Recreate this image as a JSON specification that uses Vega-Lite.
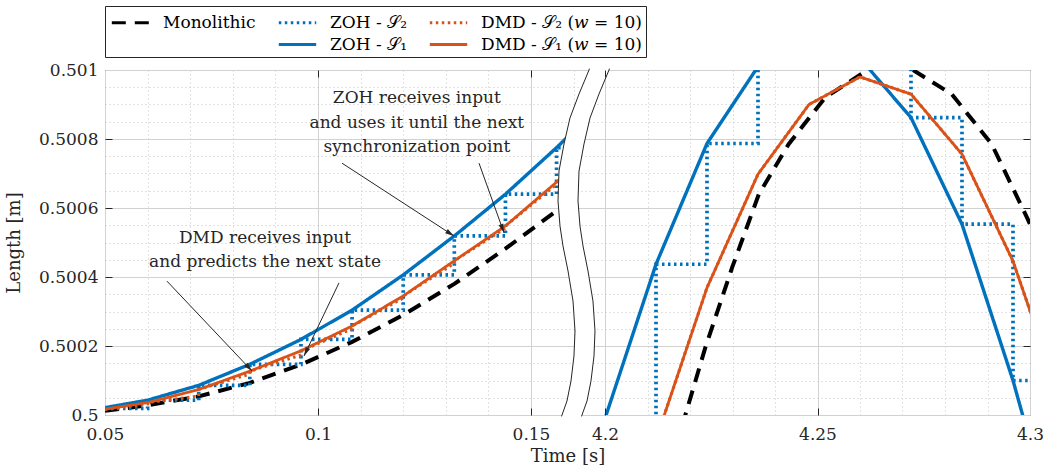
{
  "$schema": "https://vega.github.io/schema/vega-lite/v6.json",
  "width": 925,
  "height": 345,
  "padding": {"left": 5, "top": 5, "right": 5, "bottom": 5},
  "background": "white",
  "config": {
    "font": "DejaVu Serif",
    "view": {"stroke": "#262626", "strokeWidth": 1},
    "axis": {"labelFont": "DejaVu Serif", "titleFont": "DejaVu Serif", "labelColor": "#262626", "titleColor": "#262626", "titleFontWeight": "normal", "labelOverlap": false, "labelFlush": false},
    "legend": {"labelFont": "DejaVu Serif"}
  },
  "datasets": {
    "series": [
      {"s":"a","p":"L","i":0,"t":0.05,"y":0.500012},
      {"s":"a","p":"L","i":1,"t":0.06,"y":0.500028},
      {"s":"a","p":"L","i":2,"t":0.072,"y":0.500054},
      {"s":"a","p":"L","i":3,"t":0.084,"y":0.500093},
      {"s":"a","p":"L","i":4,"t":0.096,"y":0.500146},
      {"s":"a","p":"L","i":5,"t":0.108,"y":0.500212},
      {"s":"a","p":"L","i":6,"t":0.12,"y":0.50029},
      {"s":"a","p":"L","i":7,"t":0.132,"y":0.50038},
      {"s":"a","p":"L","i":8,"t":0.144,"y":0.500482},
      {"s":"a","p":"L","i":9,"t":0.156,"y":0.500592},
      {"s":"a","p":"L","i":10,"t":0.1605,"y":0.500636},
      {"s":"a","p":"R","i":0,"t":4.21,"y":0.49965},
      {"s":"a","p":"R","i":1,"t":4.2189,"y":0.5},
      {"s":"a","p":"R","i":2,"t":4.2236,"y":0.500195},
      {"s":"a","p":"R","i":3,"t":4.2299,"y":0.500427},
      {"s":"a","p":"R","i":4,"t":4.2362,"y":0.50064},
      {"s":"a","p":"R","i":5,"t":4.2432,"y":0.500785},
      {"s":"a","p":"R","i":6,"t":4.2518,"y":0.50092},
      {"s":"a","p":"R","i":7,"t":4.262,"y":0.501002},
      {"s":"a","p":"R","i":8,"t":4.2671,"y":0.50102},
      {"s":"a","p":"R","i":9,"t":4.2722,"y":0.501002},
      {"s":"a","p":"R","i":10,"t":4.2816,"y":0.50093},
      {"s":"a","p":"R","i":11,"t":4.291,"y":0.500785},
      {"s":"a","p":"R","i":12,"t":4.2993,"y":0.500572},
      {"s":"a","p":"R","i":13,"t":4.302,"y":0.5005},

      {"s":"b","p":"L","i":0,"t":0.05,"y":0.500019},
      {"s":"b","p":"L","i":1,"t":0.06,"y":0.500019},
      {"s":"b","p":"L","i":2,"t":0.06,"y":0.500043},
      {"s":"b","p":"L","i":3,"t":0.072,"y":0.500043},
      {"s":"b","p":"L","i":4,"t":0.072,"y":0.500086},
      {"s":"b","p":"L","i":5,"t":0.084,"y":0.500086},
      {"s":"b","p":"L","i":6,"t":0.084,"y":0.500147},
      {"s":"b","p":"L","i":7,"t":0.096,"y":0.500147},
      {"s":"b","p":"L","i":8,"t":0.096,"y":0.500219},
      {"s":"b","p":"L","i":9,"t":0.108,"y":0.500219},
      {"s":"b","p":"L","i":10,"t":0.108,"y":0.500304},
      {"s":"b","p":"L","i":11,"t":0.12,"y":0.500304},
      {"s":"b","p":"L","i":12,"t":0.12,"y":0.500406},
      {"s":"b","p":"L","i":13,"t":0.132,"y":0.500406},
      {"s":"b","p":"L","i":14,"t":0.132,"y":0.500519},
      {"s":"b","p":"L","i":15,"t":0.144,"y":0.500519},
      {"s":"b","p":"L","i":16,"t":0.144,"y":0.50064},
      {"s":"b","p":"L","i":17,"t":0.156,"y":0.50064},
      {"s":"b","p":"L","i":18,"t":0.156,"y":0.500775},
      {"s":"b","p":"L","i":19,"t":0.1605,"y":0.500775},
      {"s":"b","p":"R","i":0,"t":4.188,"y":0.49955},
      {"s":"b","p":"R","i":1,"t":4.2,"y":0.49955},
      {"s":"b","p":"R","i":2,"t":4.2,"y":0.49995},
      {"s":"b","p":"R","i":3,"t":4.212,"y":0.49995},
      {"s":"b","p":"R","i":4,"t":4.212,"y":0.500437},
      {"s":"b","p":"R","i":5,"t":4.224,"y":0.500437},
      {"s":"b","p":"R","i":6,"t":4.224,"y":0.500787},
      {"s":"b","p":"R","i":7,"t":4.236,"y":0.500787},
      {"s":"b","p":"R","i":8,"t":4.236,"y":0.50101},
      {"s":"b","p":"R","i":9,"t":4.248,"y":0.50101},
      {"s":"b","p":"R","i":10,"t":4.248,"y":0.50109},
      {"s":"b","p":"R","i":11,"t":4.26,"y":0.50109},
      {"s":"b","p":"R","i":12,"t":4.26,"y":0.501034},
      {"s":"b","p":"R","i":13,"t":4.272,"y":0.501034},
      {"s":"b","p":"R","i":14,"t":4.272,"y":0.500862},
      {"s":"b","p":"R","i":15,"t":4.284,"y":0.500862},
      {"s":"b","p":"R","i":16,"t":4.284,"y":0.500553},
      {"s":"b","p":"R","i":17,"t":4.296,"y":0.500553},
      {"s":"b","p":"R","i":18,"t":4.296,"y":0.5001},
      {"s":"b","p":"R","i":19,"t":4.302,"y":0.5001},

      {"s":"c","p":"L","i":0,"t":0.048,"y":0.500017},
      {"s":"c","p":"L","i":1,"t":0.06,"y":0.500043},
      {"s":"c","p":"L","i":2,"t":0.072,"y":0.500086},
      {"s":"c","p":"L","i":3,"t":0.084,"y":0.500147},
      {"s":"c","p":"L","i":4,"t":0.096,"y":0.500219},
      {"s":"c","p":"L","i":5,"t":0.108,"y":0.500304},
      {"s":"c","p":"L","i":6,"t":0.12,"y":0.500406},
      {"s":"c","p":"L","i":7,"t":0.132,"y":0.500519},
      {"s":"c","p":"L","i":8,"t":0.144,"y":0.50064},
      {"s":"c","p":"L","i":9,"t":0.156,"y":0.500775},
      {"s":"c","p":"L","i":10,"t":0.1605,"y":0.500829},
      {"s":"c","p":"R","i":0,"t":4.188,"y":0.4995},
      {"s":"c","p":"R","i":1,"t":4.2,"y":0.49999},
      {"s":"c","p":"R","i":2,"t":4.212,"y":0.500437},
      {"s":"c","p":"R","i":3,"t":4.224,"y":0.500787},
      {"s":"c","p":"R","i":4,"t":4.236,"y":0.50101},
      {"s":"c","p":"R","i":5,"t":4.248,"y":0.50109},
      {"s":"c","p":"R","i":6,"t":4.26,"y":0.501034},
      {"s":"c","p":"R","i":7,"t":4.272,"y":0.500862},
      {"s":"c","p":"R","i":8,"t":4.284,"y":0.500553},
      {"s":"c","p":"R","i":9,"t":4.296,"y":0.5001},
      {"s":"c","p":"R","i":10,"t":4.308,"y":0.49957},

      {"s":"d","p":"L","i":0,"t":0.05,"y":0.500016},
      {"s":"d","p":"L","i":1,"t":0.06,"y":0.500032},
      {"s":"d","p":"L","i":2,"t":0.06,"y":0.500036},
      {"s":"d","p":"L","i":3,"t":0.072,"y":0.500055},
      {"s":"d","p":"L","i":4,"t":0.072,"y":0.500074},
      {"s":"d","p":"L","i":5,"t":0.084,"y":0.500119},
      {"s":"d","p":"L","i":6,"t":0.084,"y":0.500127},
      {"s":"d","p":"L","i":7,"t":0.096,"y":0.500174},
      {"s":"d","p":"L","i":8,"t":0.096,"y":0.500186},
      {"s":"d","p":"L","i":9,"t":0.108,"y":0.50025},
      {"s":"d","p":"L","i":10,"t":0.108,"y":0.500258},
      {"s":"d","p":"L","i":11,"t":0.12,"y":0.500339},
      {"s":"d","p":"L","i":12,"t":0.12,"y":0.500345},
      {"s":"d","p":"L","i":13,"t":0.132,"y":0.50044},
      {"s":"d","p":"L","i":14,"t":0.132,"y":0.500447},
      {"s":"d","p":"L","i":15,"t":0.144,"y":0.500542},
      {"s":"d","p":"L","i":16,"t":0.144,"y":0.500548},
      {"s":"d","p":"L","i":17,"t":0.156,"y":0.500669},
      {"s":"d","p":"L","i":18,"t":0.156,"y":0.500675},
      {"s":"d","p":"L","i":19,"t":0.1605,"y":0.500722},
      {"s":"d","p":"R","i":0,"t":4.2,"y":0.4995},
      {"s":"d","p":"R","i":1,"t":4.212,"y":0.499928},
      {"s":"d","p":"R","i":2,"t":4.224,"y":0.500369},
      {"s":"d","p":"R","i":3,"t":4.236,"y":0.500698},
      {"s":"d","p":"R","i":4,"t":4.248,"y":0.5009},
      {"s":"d","p":"R","i":5,"t":4.26,"y":0.50098},
      {"s":"d","p":"R","i":6,"t":4.272,"y":0.50093},
      {"s":"d","p":"R","i":7,"t":4.284,"y":0.500756},
      {"s":"d","p":"R","i":8,"t":4.296,"y":0.500446},
      {"s":"d","p":"R","i":9,"t":4.308,"y":0.500015},

      {"s":"e","p":"L","i":0,"t":0.048,"y":0.500013},
      {"s":"e","p":"L","i":1,"t":0.06,"y":0.500036},
      {"s":"e","p":"L","i":2,"t":0.072,"y":0.500074},
      {"s":"e","p":"L","i":3,"t":0.084,"y":0.500127},
      {"s":"e","p":"L","i":4,"t":0.096,"y":0.500186},
      {"s":"e","p":"L","i":5,"t":0.108,"y":0.500258},
      {"s":"e","p":"L","i":6,"t":0.12,"y":0.500345},
      {"s":"e","p":"L","i":7,"t":0.132,"y":0.500447},
      {"s":"e","p":"L","i":8,"t":0.144,"y":0.500548},
      {"s":"e","p":"L","i":9,"t":0.156,"y":0.500675},
      {"s":"e","p":"L","i":10,"t":0.1605,"y":0.500724},
      {"s":"e","p":"R","i":0,"t":4.2,"y":0.4995},
      {"s":"e","p":"R","i":1,"t":4.212,"y":0.499928},
      {"s":"e","p":"R","i":2,"t":4.224,"y":0.500369},
      {"s":"e","p":"R","i":3,"t":4.236,"y":0.500698},
      {"s":"e","p":"R","i":4,"t":4.248,"y":0.5009},
      {"s":"e","p":"R","i":5,"t":4.26,"y":0.50098},
      {"s":"e","p":"R","i":6,"t":4.272,"y":0.50093},
      {"s":"e","p":"R","i":7,"t":4.284,"y":0.500756},
      {"s":"e","p":"R","i":8,"t":4.296,"y":0.500446},
      {"s":"e","p":"R","i":9,"t":4.308,"y":0.500015}
    ],
    "brk": [
      {"k":0,"y":0.501004,"t":0.16372,"t2":0.16841},
      {"k":1,"y":0.501,"t":0.16362,"t2":0.16831},
      {"k":2,"y":0.5009304,"t":0.16127,"t2":0.16596},
      {"k":3,"y":0.5008609,"t":0.15915,"t2":0.16385},
      {"k":4,"y":0.5007855,"t":0.15775,"t2":0.16244},
      {"k":5,"y":0.5007072,"t":0.15657,"t2":0.16127},
      {"k":6,"y":0.5006203,"t":0.15634,"t2":0.16103},
      {"k":7,"y":0.5005478,"t":0.15681,"t2":0.1615},
      {"k":8,"y":0.5004899,"t":0.15751,"t2":0.16221},
      {"k":9,"y":0.5004174,"t":0.15869,"t2":0.16338},
      {"k":10,"y":0.5003304,"t":0.15986,"t2":0.16455},
      {"k":11,"y":0.5002435,"t":0.16033,"t2":0.16502},
      {"k":12,"y":0.500171,"t":0.16009,"t2":0.16479},
      {"k":13,"y":0.5000986,"t":0.15939,"t2":0.16408},
      {"k":14,"y":0.5000406,"t":0.15845,"t2":0.16315},
      {"k":15,"y":0.5,"t":0.15728,"t2":0.16197},
      {"k":16,"y":0.499996,"t":0.15718,"t2":0.16187}
    ],
    "notes": [
      {"t":0.1232,"y":0.500919,"label":"ZOH receives input"},
      {"t":0.1232,"y":0.500846,"label":"and uses it until the next"},
      {"t":0.1232,"y":0.500777,"label":"synchronization point"},
      {"t":0.08756,"y":0.500513,"label":"DMD receives input"},
      {"t":0.08756,"y":0.500443,"label":"and predicts the next state"}
    ],
    "arrows": [
      {"id":1,"t":0.10563,"y":0.50073,"t2":0.13192,"y2":0.500519},
      {"id":2,"t":0.13779,"y":0.50073,"t2":0.14366,"y2":0.500528},
      {"id":3,"t":0.06455,"y":0.500388,"t2":0.08451,"y2":0.5001275},
      {"id":4,"t":0.10493,"y":0.500383,"t2":0.09671,"y2":0.500171}
    ]
  },
  "resolve": {"axis": {"x": "independent", "y": "independent"}},
  "layer": [
    {
      "data": {"name": "series"},
      "mark": {"type": "point", "opacity": 0, "clip": true},
      "encoding": {
        "x": {"field": "t", "type": "quantitative",
          "scale": {"type": "linear", "domain": [0.05, 0.175, 4.185, 4.3], "range": [0, 532.5, 436.25, 925], "nice": false, "zero": false},
          "axis": {"orient": "bottom", "values": [0.06,0.07,0.08,0.09,0.11,0.12,0.13,0.14,0.16,4.21,4.22,4.23,4.24,4.26,4.27,4.28,4.29], "grid": true, "gridDash": [1, 3], "gridColor": "#c4c4c4", "gridWidth": 1, "domain": false, "ticks": false, "labels": false, "title": null, "zindex": 0}},
        "y": {"field": "y", "type": "quantitative",
          "scale": {"domain": [0.5, 0.501], "nice": false, "zero": false},
          "axis": {"orient": "left", "values": [0.50005,0.5001,0.50015,0.50025,0.5003,0.50035,0.50045,0.5005,0.50055,0.50065,0.5007,0.50075,0.50085,0.5009,0.50095], "grid": true, "gridDash": [1, 3], "gridColor": "#c4c4c4", "gridWidth": 1, "domain": false, "ticks": false, "labels": false, "title": null, "zindex": 0}}
      }
    },
    {
      "data": {"name": "series"},
      "mark": {"type": "point", "opacity": 0, "clip": true},
      "encoding": {
        "x": {"field": "t", "type": "quantitative",
          "scale": {"type": "linear", "domain": [0.05, 0.175, 4.185, 4.3], "range": [0, 532.5, 436.25, 925], "nice": false, "zero": false},
          "axis": {"orient": "bottom", "values": [0.05, 0.1, 0.15, 4.2, 4.25, 4.3], "format": ".3~g", "grid": true, "gridColor": "#d2d2d2", "gridWidth": 1, "domain": false, "ticks": false, "labels": true, "labelFontSize": 17, "labelPadding": 11, "title": "Time [s]", "titleFontSize": 18, "titlePadding": 5, "zindex": 0}},
        "y": {"field": "y", "type": "quantitative",
          "scale": {"domain": [0.5, 0.501], "nice": false, "zero": false},
          "axis": {"orient": "left", "values": [0.5, 0.5002, 0.5004, 0.5006, 0.5008, 0.501], "format": ".4~f", "grid": true, "gridColor": "#d2d2d2", "gridWidth": 1, "domain": false, "ticks": false, "labels": true, "labelFontSize": 17, "labelPadding": 7, "title": "Length [m]", "titleFontSize": 18, "titlePadding": 15, "zindex": 0}}
      }
    },
    {
      "data": {"name": "series"},
      "mark": {"type": "point", "opacity": 0, "clip": true},
      "encoding": {
        "x": {"field": "t", "type": "quantitative",
          "scale": {"type": "linear", "domain": [0.05, 0.175, 4.185, 4.3], "range": [0, 532.5, 436.25, 925], "nice": false, "zero": false},
          "axis": {"orient": "bottom", "values": [0.1, 0.15, 4.2, 4.25], "grid": false, "domain": false, "ticks": true, "tickSize": -7, "tickColor": "#262626", "labels": false, "title": null, "zindex": 1}},
        "y": {"field": "y", "type": "quantitative",
          "scale": {"domain": [0.5, 0.501], "nice": false, "zero": false},
          "axis": {"orient": "left", "values": [0.5002, 0.5004, 0.5006, 0.5008], "grid": false, "domain": false, "ticks": true, "tickSize": -7, "tickColor": "#262626", "labels": false, "title": null, "zindex": 1}}
      }
    },
    {
      "data": {"name": "series"},
      "mark": {"type": "point", "opacity": 0, "clip": true},
      "encoding": {
        "x": {"field": "t", "type": "quantitative",
          "scale": {"type": "linear", "domain": [0.05, 0.175, 4.185, 4.3], "range": [0, 532.5, 436.25, 925], "nice": false, "zero": false},
          "axis": {"orient": "top", "values": [0.1, 0.15, 4.2, 4.25], "grid": false, "domain": false, "ticks": true, "tickSize": -7, "tickColor": "#262626", "labels": false, "title": null, "zindex": 1}},
        "y": {"field": "y", "type": "quantitative",
          "scale": {"domain": [0.5, 0.501], "nice": false, "zero": false},
          "axis": {"orient": "right", "values": [0.5002, 0.5004, 0.5006, 0.5008], "grid": false, "domain": false, "ticks": true, "tickSize": -7, "tickColor": "#262626", "labels": false, "title": null, "zindex": 1}}
      }
    },
    {
      "data": {"name": "series"},
      "mark": {"type": "line", "clip": true, "strokeCap": "butt"},
      "encoding": {
        "x": {"field": "t", "type": "quantitative",
          "scale": {"type": "linear", "domain": [0.05, 0.175, 4.185, 4.3], "range": [0, 532.5, 436.25, 925], "nice": false, "zero": false}, "axis": null},
        "y": {"field": "y", "type": "quantitative",
          "scale": {"domain": [0.5, 0.501], "nice": false, "zero": false}, "axis": null},
        "detail": {"field": "p"},
        "order": {"field": "i", "type": "quantitative"},
        "color": {"field": "s", "type": "nominal",
          "scale": {"domain": ["a", "f", "b", "c", "d", "e"], "range": ["#000000", "#ffffff", "#0072BD", "#0072BD", "#D95319", "#D95319"]},
          "legend": {"orient": "none", "legendX": 0, "legendY": -64, "columns": 3, "title": null,
            "labelExpr": "datum.label == 'a' ? 'Monolithic' : datum.label == 'b' ? 'ZOH - 𝒮₂' : datum.label == 'c' ? 'ZOH - 𝒮₁' : datum.label == 'd' ? 'DMD - 𝒮₂ (𝑤 = 10)' : datum.label == 'e' ? 'DMD - 𝒮₁ (𝑤 = 10)' : ''",
            "strokeColor": "#262626", "fillColor": "white", "padding": 4, "rowPadding": 1, "columnPadding": 16,
            "labelFontSize": 17, "labelColor": "#000000", "labelLimit": 400, "labelOffset": 20,
            "symbolType": "M-1.7,0L1.7,0", "symbolSize": 484, "symbolOffset": 9, "symbolStrokeWidth": 3}},
        "strokeDash": {"field": "s", "type": "nominal",
          "scale": {"domain": ["a", "f", "b", "c", "d", "e"], "range": [[14, 9], [1, 0], [2.5, 3.5], [1, 0], [2.5, 3.5], [1, 0]]},
          "legend": {"orient": "none", "legendX": 0, "legendY": -64, "columns": 3, "title": null,
            "labelExpr": "datum.label == 'a' ? 'Monolithic' : datum.label == 'b' ? 'ZOH - 𝒮₂' : datum.label == 'c' ? 'ZOH - 𝒮₁' : datum.label == 'd' ? 'DMD - 𝒮₂ (𝑤 = 10)' : datum.label == 'e' ? 'DMD - 𝒮₁ (𝑤 = 10)' : ''"}},
        "strokeWidth": {"field": "s", "type": "nominal",
          "scale": {"domain": ["a", "b", "c", "d", "e", "f"], "range": [4, 2.5, 2.5, 2.5, 2.5, 1]}, "legend": null}
      }
    },
    {
      "data": {"name": "brk"},
      "mark": {"type": "area", "orient": "horizontal", "color": "white", "clip": false},
      "encoding": {
        "y": {"field": "y", "type": "quantitative", "scale": {"domain": [0.5, 0.501], "nice": false, "zero": false}, "axis": null},
        "x": {"field": "t", "type": "quantitative",
          "scale": {"type": "linear", "domain": [0.05, 0.175, 4.185, 4.3], "range": [0, 532.5, 436.25, 925], "nice": false, "zero": false}, "axis": null},
        "x2": {"field": "t2"}
      }
    },
    {
      "data": {"name": "brk"},
      "mark": {"type": "line", "color": "#262626", "strokeWidth": 1, "clip": false},
      "encoding": {
        "x": {"field": "t", "type": "quantitative",
          "scale": {"type": "linear", "domain": [0.05, 0.175, 4.185, 4.3], "range": [0, 532.5, 436.25, 925], "nice": false, "zero": false}, "axis": null},
        "y": {"field": "y", "type": "quantitative", "scale": {"domain": [0.5, 0.501], "nice": false, "zero": false}, "axis": null},
        "order": {"field": "k", "type": "quantitative"}
      }
    },
    {
      "data": {"name": "brk"},
      "mark": {"type": "line", "color": "#262626", "strokeWidth": 1, "clip": false},
      "encoding": {
        "x": {"field": "t2", "type": "quantitative",
          "scale": {"type": "linear", "domain": [0.05, 0.175, 4.185, 4.3], "range": [0, 532.5, 436.25, 925], "nice": false, "zero": false}, "axis": null},
        "y": {"field": "y", "type": "quantitative", "scale": {"domain": [0.5, 0.501], "nice": false, "zero": false}, "axis": null},
        "order": {"field": "k", "type": "quantitative"}
      }
    },
    {
      "data": {"name": "notes"},
      "mark": {"type": "text", "align": "center", "baseline": "middle", "fontSize": 17, "font": "DejaVu Serif", "color": "#262626", "clip": false},
      "encoding": {
        "x": {"field": "t", "type": "quantitative",
          "scale": {"type": "linear", "domain": [0.05, 0.175, 4.185, 4.3], "range": [0, 532.5, 436.25, 925], "nice": false, "zero": false}, "axis": null},
        "y": {"field": "y", "type": "quantitative", "scale": {"domain": [0.5, 0.501], "nice": false, "zero": false}, "axis": null},
        "text": {"field": "label"}
      }
    },
    {
      "data": {"name": "arrows"},
      "mark": {"type": "rule", "color": "#262626", "strokeWidth": 1},
      "encoding": {
        "x": {"field": "t", "type": "quantitative",
          "scale": {"type": "linear", "domain": [0.05, 0.175, 4.185, 4.3], "range": [0, 532.5, 436.25, 925], "nice": false, "zero": false}, "axis": null},
        "y": {"field": "y", "type": "quantitative", "scale": {"domain": [0.5, 0.501], "nice": false, "zero": false}, "axis": null},
        "x2": {"field": "t2"},
        "y2": {"field": "y2"}
      }
    },
    {
      "data": {"name": "arrows"},
      "transform": [{"filter": "datum.id == 1"}],
      "mark": {"type": "point", "shape": "M0,0L0.55,2L-0.55,2Z", "filled": true, "size": 80, "color": "#262626", "opacity": 1, "angle": 123},
      "encoding": {
        "x": {"field": "t2", "type": "quantitative",
          "scale": {"type": "linear", "domain": [0.05, 0.175, 4.185, 4.3], "range": [0, 532.5, 436.25, 925], "nice": false, "zero": false}, "axis": null},
        "y": {"field": "y2", "type": "quantitative", "scale": {"domain": [0.5, 0.501], "nice": false, "zero": false}, "axis": null}
      }
    },
    {
      "data": {"name": "arrows"},
      "transform": [{"filter": "datum.id == 2"}],
      "mark": {"type": "point", "shape": "M0,0L0.55,2L-0.55,2Z", "filled": true, "size": 80, "color": "#262626", "opacity": 1, "angle": 160},
      "encoding": {
        "x": {"field": "t2", "type": "quantitative",
          "scale": {"type": "linear", "domain": [0.05, 0.175, 4.185, 4.3], "range": [0, 532.5, 436.25, 925], "nice": false, "zero": false}, "axis": null},
        "y": {"field": "y2", "type": "quantitative", "scale": {"domain": [0.5, 0.501], "nice": false, "zero": false}, "axis": null}
      }
    },
    {
      "data": {"name": "arrows"},
      "transform": [{"filter": "datum.id == 3"}],
      "mark": {"type": "point", "shape": "M0,0L0.55,2L-0.55,2Z", "filled": true, "size": 80, "color": "#262626", "opacity": 1, "angle": 137},
      "encoding": {
        "x": {"field": "t2", "type": "quantitative",
          "scale": {"type": "linear", "domain": [0.05, 0.175, 4.185, 4.3], "range": [0, 532.5, 436.25, 925], "nice": false, "zero": false}, "axis": null},
        "y": {"field": "y2", "type": "quantitative", "scale": {"domain": [0.5, 0.501], "nice": false, "zero": false}, "axis": null}
      }
    },
    {
      "data": {"name": "arrows"},
      "transform": [{"filter": "datum.id == 4"}],
      "mark": {"type": "point", "shape": "M0,0L0.55,2L-0.55,2Z", "filled": true, "size": 80, "color": "#262626", "opacity": 1, "angle": 206},
      "encoding": {
        "x": {"field": "t2", "type": "quantitative",
          "scale": {"type": "linear", "domain": [0.05, 0.175, 4.185, 4.3], "range": [0, 532.5, 436.25, 925], "nice": false, "zero": false}, "axis": null},
        "y": {"field": "y2", "type": "quantitative", "scale": {"domain": [0.5, 0.501], "nice": false, "zero": false}, "axis": null}
      }
    }
  ]
}
